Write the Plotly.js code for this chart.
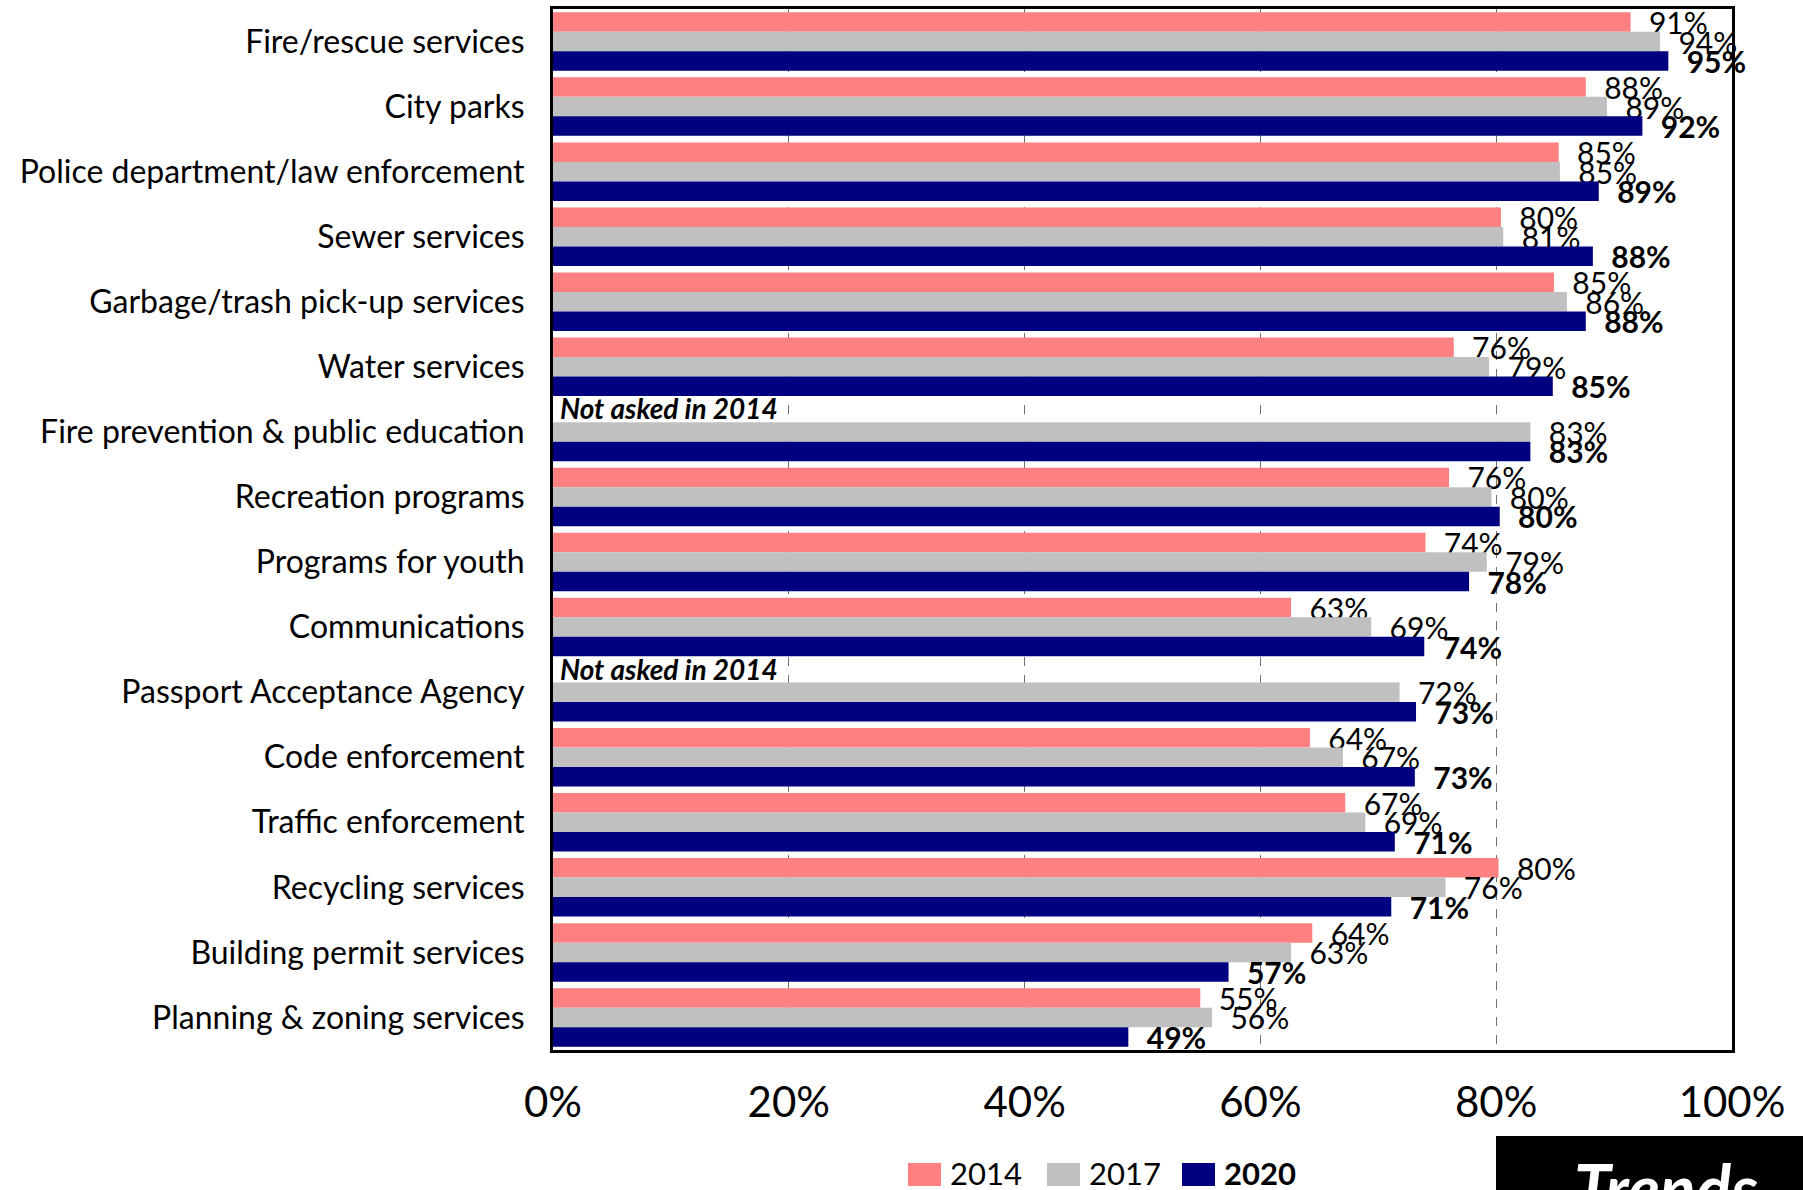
<!DOCTYPE html>
<html>
<head>
<meta charset="utf-8">
<script src="https://cdn.plot.ly/plotly-3.0.1.min.js"></script>
<style>html,body{margin:0;padding:0;background:#fff;}#chart{width:1803px;height:1190px;}</style>
</head>
<body>
<div id="chart"></div>
<script>
const categories = [
  "Fire/rescue services",
  "City parks",
  "Police department/law enforcement",
  "Sewer services",
  "Garbage/trash pick-up services",
  "Water services",
  "Fire prevention & public education",
  "Recreation programs",
  "Programs for youth",
  "Communications",
  "Passport Acceptance Agency",
  "Code enforcement",
  "Traffic enforcement",
  "Recycling services",
  "Building permit services",
  "Planning & zoning services"
];
const seriesNames = ["2014", "2017", "2020"];
const values2014 = [91.4, 87.6, 85.3, 80.4, 84.9, 76.4, null, 76.0, 74.0, 62.6, null, 64.2, 67.2, 80.2, 64.4, 54.9];
const values2017 = [93.9, 89.4, 85.4, 80.6, 86.0, 79.4, 82.9, 79.6, 79.2, 69.4, 71.8, 67.0, 68.9, 75.7, 62.6, 55.9];
const values2020 = [94.6, 92.4, 88.7, 88.2, 87.6, 84.8, 82.9, 80.3, 77.7, 73.9, 73.2, 73.1, 71.4, 71.1, 57.3, 48.8];
const xTickVals = [0, 20, 40, 60, 80, 100];
const xTickLabels = ["0%", "20%", "40%", "60%", "80%", "100%"];
const notAskedNote = "Not asked in 2014";
const badgeText = "Trends";

const colors = ["#FF8080", "#C0C0C0", "#000080"];
const FONT = "Lato, 'Open Sans', sans-serif";

const series = [values2014, values2017, values2020];
const traces = series.map((vals, i) => ({
  type: "bar",
  orientation: "h",
  name: seriesNames[i],
  y: categories,
  x: vals,
  marker: {color: colors[i], line: {width: 0}},
  texttemplate: i === 2 ? "\u00a0\u00a0<b>%{x:.0f}%</b>" : "\u00a0\u00a0%{x:.0f}%",
  textposition: "outside",
  constraintext: "none",
  cliponaxis: false,
  textfont: {family: FONT, size: 30, color: "#000"},
  showlegend: false,
  hoverinfo: "x+y+name"
}));

const annotations = [];
values2014.forEach((v, idx) => {
  if (v === null) {
    annotations.push({
      xref: "x", yref: "y", x: 0.4, y: idx - 0.36,
      xanchor: "left", yanchor: "middle",
      text: "<b><i>" + notAskedNote + "</i></b>",
      showarrow: false,
      font: {family: FONT, size: 28, color: "#000"}
    });
  }
});

const L = 553, R = 1732, T = 9, B = 1050;
const px2x = p => (p - L) / (R - L);
const py2y = p => (B - p) / (B - T);
const shapes = [];
const legendSwatchX = [908, 1047, 1182];
legendSwatchX.forEach((sx, i) => {
  shapes.push({
    type: "rect", xref: "paper", yref: "paper",
    x0: px2x(sx), x1: px2x(sx + 33), y0: py2y(1163), y1: py2y(1186),
    fillcolor: colors[i], line: {width: 0}
  });
  annotations.push({
    xref: "paper", yref: "paper", x: px2x(sx + 40), y: py2y(1173),
    xanchor: "left", yanchor: "middle",
    text: i === 2 ? "<b>" + seriesNames[i] + "</b>" : seriesNames[i],
    showarrow: false,
    font: {family: FONT, size: 31, color: "#000"}
  });
});
shapes.push({
  type: "rect", xref: "paper", yref: "paper",
  x0: px2x(1496), x1: px2x(1850), y0: py2y(1136), y1: py2y(1250),
  fillcolor: "#000", line: {width: 0}
});
annotations.push({
  xref: "paper", yref: "paper", x: px2x(1572), y: py2y(1146),
  xanchor: "left", yanchor: "top",
  text: "<b><i>" + badgeText + "</i></b>",
  showarrow: false,
  font: {family: FONT, size: 66, color: "#fff"}
});

const layout = {
  width: 1803, height: 1190,
  margin: {l: L, r: 1803 - R, t: T, b: 1190 - B, pad: 0},
  paper_bgcolor: "#fff", plot_bgcolor: "#fff",
  barmode: "group", bargap: 0.1, bargroupgap: 0,
  showlegend: false,
  font: {family: FONT, color: "#000"},
  xaxis: {
    range: [0, 100], tickmode: "array", tickvals: xTickVals, ticktext: xTickLabels,
    showgrid: true, gridcolor: "#6f6f6f", gridwidth: 1.3, griddash: "dash",
    zeroline: false, showline: true, linecolor: "#000", linewidth: 3, mirror: true,
    ticks: "", ticklabelstandoff: 14,
    tickfont: {family: FONT, size: 42, color: "#000"},
    fixedrange: true
  },
  yaxis: {
    type: "category", autorange: "reversed",
    showgrid: false, zeroline: false,
    showline: true, linecolor: "#000", linewidth: 3, mirror: true,
    ticks: "", ticklabelstandoff: 19,
    tickfont: {family: FONT, size: 32, color: "#000"},
    fixedrange: true
  },
  shapes: shapes,
  annotations: annotations
};

Plotly.newPlot("chart", traces, layout, {displayModeBar: false, staticPlot: true});
</script>
</body>
</html>
